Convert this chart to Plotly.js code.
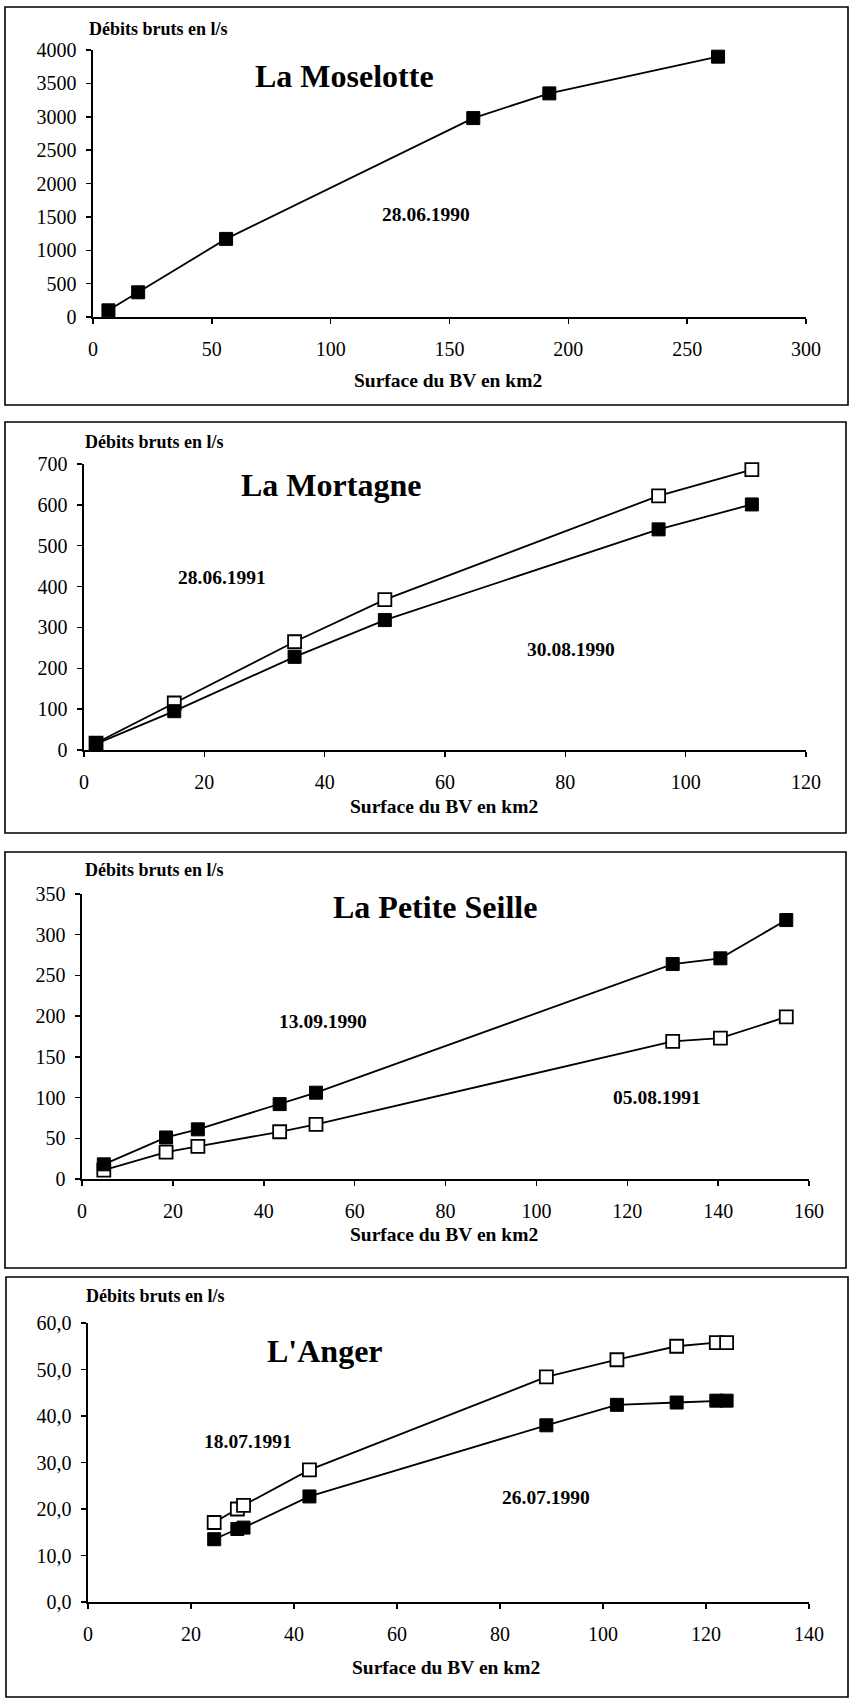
<!DOCTYPE html>
<html>
<head>
<meta charset="utf-8">
<script src="https://cdn.plot.ly/plotly-3.0.1.min.js"></script>
<style>
  html, body { margin: 0; padding: 0; background: #fff; }
  #chart { width: 853px; height: 1698px; }
</style>
</head>
<body>
<div id="chart"></div>
<script>
// ---------- DATA ----------
// La Moselotte (28.06.1990)
const moselotteSurface = [6.5, 19, 56, 160, 192, 263];
const moselotteDebit   = [100, 370, 1170, 2980, 3350, 3900];

// La Mortagne
const mortagneSurface    = [2, 15, 35, 50, 95.5, 111];
const mortagne1991Debit  = [17, 115, 265, 368, 622, 686];   // 28.06.1991 (open)
const mortagne1990Debit  = [15, 95, 228, 318, 540, 601];    // 30.08.1990 (filled)

// La Petite Seille
const seilleSurface     = [4.8, 18.5, 25.5, 43.5, 51.5, 130, 140.5, 155];
const seille1990Debit   = [18, 51, 61, 92, 106, 264, 271, 318]; // 13.09.1990 (filled)
const seille1991Debit   = [11, 33, 40, 58, 67, 169, 173, 199]; // 05.08.1991 (open)

// L'Anger
const angerSurface      = [24.5, 29, 30.2, 43, 89, 102.7, 114.3, 122, 124];
const anger1991Debit    = [17.1, 20.0, 20.8, 28.4, 48.4, 52.1, 55.0, 55.8, 55.8]; // 18.07.1991 (open)
const anger1990Debit    = [13.5, 15.7, 16.0, 22.7, 38.0, 42.4, 42.9, 43.3, 43.3]; // 26.07.1990 (filled)

const panelTitles = ["La Moselotte", "La Mortagne", "La Petite Seille", "L'Anger"];
const yLabel = "Débits bruts en l/s";
const xLabel = "Surface du BV en km2";

// ---------- LAYOUT HELPERS ----------
const W = 853, H = 1698;
const px = x => x / W;
const py = y => 1 - y / H;
const SERIF = "'Liberation Serif', serif";

function filled(x, y, xa, ya) {
  return { x, y, xaxis: xa, yaxis: ya, type: "scatter", mode: "lines+markers",
    cliponaxis: false, showlegend: false,
    line: { color: "#000", width: 1.8 },
    marker: { symbol: "square", size: 13, color: "#000", line: { color: "#000", width: 1 } } };
}
function open(x, y, xa, ya) {
  return { x, y, xaxis: xa, yaxis: ya, type: "scatter", mode: "lines+markers",
    cliponaxis: false, showlegend: false,
    line: { color: "#000", width: 1.8 },
    marker: { symbol: "square", size: 13, color: "#fff", line: { color: "#000", width: 1.8 } } };
}

const data = [
  filled(moselotteSurface, moselotteDebit, "x", "y"),
  open(mortagneSurface, mortagne1991Debit, "x2", "y2"),
  filled(mortagneSurface, mortagne1990Debit, "x2", "y2"),
  open(seilleSurface, seille1991Debit, "x3", "y3"),
  filled(seilleSurface, seille1990Debit, "x3", "y3"),
  filled(angerSurface, anger1990Debit, "x4", "y4"),
  open(angerSurface, anger1991Debit, "x4", "y4")
];

function xax(domain, range, dtick, anchor) {
  return { domain, range, dtick, tick0: 0, anchor, showgrid: false, zeroline: false,
    showline: true, linecolor: "#000", linewidth: 1.6, ticks: "outside", ticklen: 5,
    tickcolor: "#000", tickwidth: 1.5, ticklabelstandoff: 8,
    tickfont: { family: SERIF, size: 20, color: "#000" }, fixedrange: true };
}
function yax(domain, range, dtick, anchor, fmt) {
  const a = { domain, range, dtick, tick0: 0, anchor, showgrid: false, zeroline: false,
    showline: true, linecolor: "#000", linewidth: 1.6, ticks: "outside", ticklen: 5,
    tickcolor: "#000", tickwidth: 1.5, ticklabelstandoff: 6,
    tickfont: { family: SERIF, size: 20, color: "#000" }, fixedrange: true };
  if (fmt) a.tickformat = fmt;
  return a;
}

// axes pixel boxes
const boxes = [
  { x0: 93, x1: 806, y0: 317, y1: 50 },
  { x0: 84, x1: 806, y0: 750, y1: 464 },
  { x0: 82, x1: 809, y0: 1179, y1: 894 },
  { x0: 88, x1: 809, y0: 1602, y1: 1323 }
];
const frames = [
  { x0: 5, x1: 848, y0: 7, y1: 405 },
  { x0: 5, x1: 846, y0: 422, y1: 833 },
  { x0: 5, x1: 846, y0: 852, y1: 1268 },
  { x0: 6, x1: 848, y0: 1277, y1: 1697 }
];
const dom = b => ({ x: [px(b.x0), px(b.x1)], y: [py(b.y0), py(b.y1)] });

const d1 = dom(boxes[0]), d2 = dom(boxes[1]), d3 = dom(boxes[2]), d4 = dom(boxes[3]);

const layout = {
  width: W, height: H,
  margin: { l: 0, r: 0, t: 0, b: 0 },
  paper_bgcolor: "#fff", plot_bgcolor: "rgba(0,0,0,0)",
  font: { family: SERIF, color: "#000" },
  showlegend: false,
  xaxis:  xax(d1.x, [0, 300], 50, "y"),
  yaxis:  yax(d1.y, [0, 4000], 500, "x"),
  xaxis2: xax(d2.x, [0, 120], 20, "y2"),
  yaxis2: yax(d2.y, [0, 700], 100, "x2"),
  xaxis3: xax(d3.x, [0, 160], 20, "y3"),
  yaxis3: yax(d3.y, [0, 350], 50, "x3"),
  xaxis4: xax(d4.x, [0, 140], 20, "y4"),
  yaxis4: yax(d4.y, [0, 60], 10, "x4", ".1f"),
  separators: ", ",
  shapes: frames.map(f => ({ type: "rect", xref: "paper", yref: "paper",
    x0: px(f.x0), x1: px(f.x1), y0: py(f.y1), y1: py(f.y0),
    line: { color: "#000", width: 1.6 }, fillcolor: "rgba(0,0,0,0)", layer: "below" })),
  annotations: []
};

const bold = (size) => ({ family: SERIF, size, color: "#000", weight: "bold" });
function ann(text, x, y, xref, yref, size, xanchor) {
  return { text: "<b>" + text + "</b>", x, y, xref, yref, showarrow: false,
    xanchor: xanchor || "center", yanchor: "middle", font: bold(size) };
}

// y labels and x titles
const yLabPos = [[87, 29], [83, 442], [83, 870], [84, 1296]];
const xTitPos = [[448, 380], [444, 806], [444, 1234], [446, 1667]];
yLabPos.forEach(p => layout.annotations.push(ann(yLabel, px(p[0]), py(p[1]), "paper", "paper", 18, "left")));
xTitPos.forEach(p => layout.annotations.push(ann(xLabel, px(p[0]), py(p[1]), "paper", "paper", 19.5)));

// panel titles (data coords)
layout.annotations.push(ann(panelTitles[0], 106, 3610, "x", "y", 32));
layout.annotations.push(ann(panelTitles[1], 41, 649, "x2", "y2", 32));
layout.annotations.push(ann(panelTitles[2], 77.6, 334, "x3", "y3", 32));
layout.annotations.push(ann(panelTitles[3], 46, 54, "x4", "y4", 32));

// date labels
layout.annotations.push(ann("28.06.1990", 140, 1540, "x", "y", 19.5));
layout.annotations.push(ann("28.06.1991", 23, 423, "x2", "y2", 19.5));
layout.annotations.push(ann("30.08.1990", 81, 245, "x2", "y2", 19.5));
layout.annotations.push(ann("13.09.1990", 53, 194, "x3", "y3", 19.5));
layout.annotations.push(ann("05.08.1991", 126.5, 100, "x3", "y3", 19.5));
layout.annotations.push(ann("18.07.1991", 31, 34.5, "x4", "y4", 19.5));
layout.annotations.push(ann("26.07.1990", 89, 22.5, "x4", "y4", 19.5));

Plotly.newPlot("chart", data, layout, { staticPlot: true, displayModeBar: false });
</script>
</body>
</html>
